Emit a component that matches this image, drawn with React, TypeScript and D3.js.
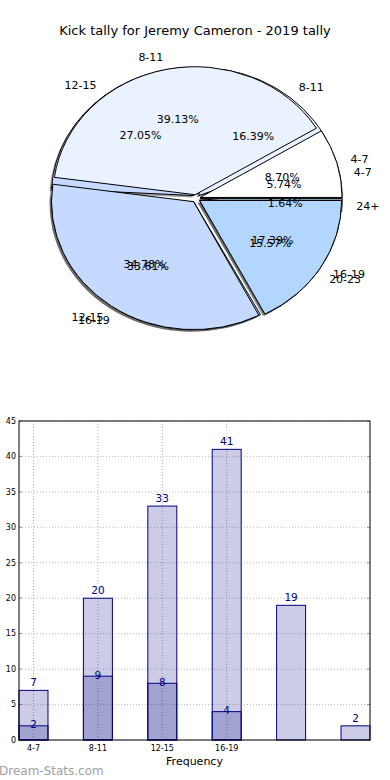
import React from "react";
import * as d3 from "d3";

const W = 390;
const H = 780;

// pie data
const ageGroups = ["4-7", "8-11", "12-15", "16-19", "20-23", "24+"];
const seasonKicks = [7, 20, 33, 41, 19, 2];
const matchGroups = ["4-7", "8-11", "12-15", "16-19"];
const matchKicks = [2, 9, 8, 4];
const pieColors = ["#ffffff", "#eaf1ff", "#c6d9ff", "#b3d6ff", "#9fc6f0", "#a4bccb"];

// bar data
const barCategories = ["4-7", "8-11", "12-15", "16-19", "20-23", "24+"];
const totalCounts = [7, 20, 33, 41, 19, 2];
const subsetCounts = [2, 9, 8, 4];
const xTickLabels = ["4-7", "8-11", "12-15", "16-19"];
const yTicks = [0, 5, 10, 15, 20, 25, 30, 35, 40, 45];

const font = "'DejaVu Sans', sans-serif";

const cx = 196;
const cy = 198.5;
const rx = 142;
const ry = 128;
const explode = 0.03;

type PieSet = { labels: string[]; values: number[] };
const pieSets: PieSet[] = [
  { labels: ageGroups, values: seasonKicks },
  { labels: matchGroups, values: matchKicks },
];

// matplotlib style: start east, go counter-clockwise
const pie = d3
  .pie<number>()
  .sort(null)
  .startAngle(Math.PI / 2)
  .endAngle(Math.PI / 2 - 2 * Math.PI);
const unitArc = d3.arc<d3.PieArcDatum<number>>().innerRadius(0).outerRadius(1);

function wedges(set: PieSet) {
  const total = d3.sum(set.values);
  return pie(set.values).map((d, i) => {
    const mid = (d.startAngle + d.endAngle) / 2;
    const ux = Math.sin(mid);
    const uy = -Math.cos(mid);
    const ox = cx + ux * explode * rx;
    const oy = cy + uy * explode * ry;
    return {
      d: unitArc(d) as string,
      color: pieColors[i],
      label: set.labels[i],
      pct: ((set.values[i] / total) * 100).toFixed(2) + "%",
      ox,
      oy,
      ux,
      uy,
    };
  });
}

export default function App() {
  const allWedges = pieSets.map(wedges);

  const x = d3.scaleLinear().domain([0, 5.45]).range([19, 370]);
  const y = d3.scaleLinear().domain([0, 45]).range([740, 421]);
  const bw = 0.45;

  return (
    <svg
      width={W}
      height={H}
      style={{ position: "absolute", left: 0, top: 0, background: "#fff" }}
      fontFamily={font}
    >
      <text x={195} y={34.5} textAnchor="middle" fontSize={13} fill="#000">
        Kick tally for Jeremy Cameron - 2019 tally
      </text>

      {/* shadows sit under every wedge */}
      {allWedges.map((ws, k) =>
        ws.map((w, i) => (
          <path
            key={`s${k}-${i}`}
            d={w.d}
            transform={`translate(${w.ox - 2},${w.oy + 2}) scale(${rx},${ry})`}
            fill="#2a2a2a"
            fillOpacity={0.45}
          />
        ))
      )}
      {allWedges.map((ws, k) =>
        ws.map((w, i) => (
          <path
            key={`w${k}-${i}`}
            d={w.d}
            transform={`translate(${w.ox},${w.oy}) scale(${rx},${ry})`}
            fill={w.color}
            stroke="#000"
            strokeWidth={1}
            vectorEffect="non-scaling-stroke"
          />
        ))
      )}
      {allWedges.map((ws, k) =>
        ws.map((w, i) => (
          <g key={`t${k}-${i}`} fontSize={11} fill="#000">
            <text
              x={w.ox + w.ux * 1.1 * rx}
              y={w.oy + w.uy * 1.1 * ry}
              dy="0.35em"
              textAnchor={w.ux > 0 ? "start" : "end"}
            >
              {w.label}
            </text>
            <text
              x={w.ox + w.ux * 0.6 * rx}
              y={w.oy + w.uy * 0.6 * ry}
              dy="0.35em"
              textAnchor="middle"
            >
              {w.pct}
            </text>
          </g>
        ))
      )}

      {/* bar chart grid + ticks */}
      {yTicks.map((t) => (
        <g key={`gy${t}`}>
          <line x1={x(0)} x2={x(5.45)} y1={y(t)} y2={y(t)} stroke="#bbb" strokeDasharray="1,2" />
          <line x1={x(0)} x2={x(0) + 3} y1={y(t)} y2={y(t)} stroke="#999" />
          <line x1={x(5.45) - 3} x2={x(5.45)} y1={y(t)} y2={y(t)} stroke="#999" />
          <text x={16} y={y(t)} dy="0.35em" textAnchor="end" fontSize={8} fill="#000">
            {t}
          </text>
        </g>
      ))}
      {xTickLabels.map((lab, i) => (
        <g key={`gx${lab}`}>
          <line x1={x(i + bw / 2)} x2={x(i + bw / 2)} y1={y(45)} y2={y(0)} stroke="#aaa" strokeDasharray="1,2" />
          <text x={x(i + bw / 2)} y={748} dy="0.35em" textAnchor="middle" fontSize={8} fill="#000">
            {lab}
          </text>
        </g>
      ))}

      {totalCounts.map((v, i) => (
        <g key={`b${barCategories[i]}`}>
          <rect
            x={x(i)}
            y={y(v)}
            width={x(i + bw) - x(i)}
            height={y(0) - y(v)}
            fill="navy"
            fillOpacity={0.2}
            stroke="navy"
            strokeWidth={1}
          />
          <text x={x(i + bw / 2)} y={y(v) - 4} textAnchor="middle" fontSize={10.5} fill="navy">
            {v}
          </text>
        </g>
      ))}
      {subsetCounts.map((v, i) => (
        <g key={`d${barCategories[i]}`}>
          <rect
            x={x(i)}
            y={y(v)}
            width={x(i + bw) - x(i)}
            height={y(0) - y(v)}
            fill="navy"
            fillOpacity={0.2}
            stroke="navy"
            strokeWidth={1}
          />
          <text x={x(i + bw / 2)} y={y(v) + 2.5} textAnchor="middle" fontSize={10.5} fill="navy">
            {v}
          </text>
        </g>
      ))}

      <rect x={x(0)} y={y(45)} width={x(5.45) - x(0)} height={y(0) - y(45)} fill="none" stroke="#000" strokeWidth={1} />

      <text x={(x(0) + x(5.45)) / 2} y={761} dy="0.35em" textAnchor="middle" fontSize={11} fill="#000">
        Frequency
      </text>
      <text x={-1} y={775} fontSize={12} fill="#a0a0a0">
        Dream-Stats.com
      </text>
    </svg>
  );
}
